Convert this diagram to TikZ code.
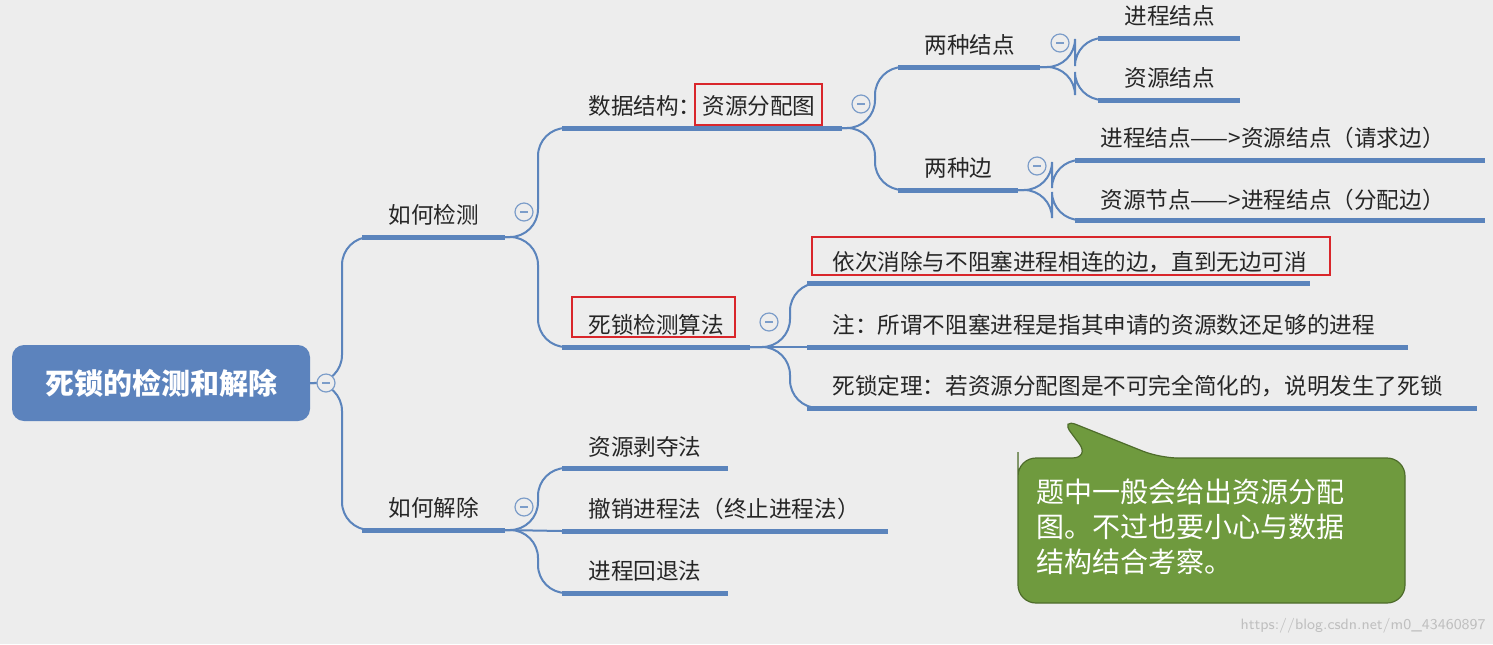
\documentclass[tikz,border=0pt]{standalone}
\usepackage{fontspec}
\newfontfamily\cjk{Noto Sans CJK SC}
\usetikzlibrary{calc}
\definecolor{ln}{HTML}{5B84BC}
\definecolor{bg}{HTML}{EDEDED}
\definecolor{rootc}{HTML}{5C83BD}
\definecolor{gr}{HTML}{6F9A3E}
\definecolor{rd}{HTML}{D9262B}
\begin{document}
\begin{tikzpicture}[x=0.5pt,y=-0.5pt,
  ul/.style={ln,line width=2.5pt},
  cn/.style={ln,line width=1pt,rounded corners=14},
  lbl/.style={anchor=south west,inner sep=0pt,font=\cjk\fontsize{11.3}{13}\selectfont,text=black!85},
  rbox/.style={draw=rd,line width=0.8pt},
  col/.style={circle,draw=ln!80,fill=bg,line width=0.6pt,minimum size=9pt,inner sep=0pt,
     path picture={\draw[ln!80,line width=0.6pt] ($(path picture bounding box.center)+(-2pt,0)$)--++(4pt,0);}}]
\fill[bg] (0,0) rectangle (1493,644);
\useasboundingbox (0,0) rectangle (1493,644);
% root
\node[fill=rootc,rounded corners=6pt,minimum width=149pt,minimum height=38pt,text=white,font=\cjk\bfseries\fontsize{14.5}{16}\selectfont] (root) at (161,383) {死锁的检测和解除};
% level 1 lines
\coordinate (r1) at (310,383);
\coordinate (a0) at (362,237); \coordinate (a1) at (505,237);
\coordinate (b0) at (362,530); \coordinate (b1) at (505,530);
\draw[cn] (r1) -- (342,383) |- (a0);
\draw[cn] (r1) -- (342,383) |- (b0);
\draw[ul] (a0)--(a1); \draw[ul] (b0)--(b1);
\node[lbl] (ta) at (388,226) {如何检测};
\node[lbl] (tb) at (388,519) {如何解除};
% 如何检测 children
\coordinate (c0) at (562,128); \coordinate (c1) at (842,128);
\coordinate (d0) at (562,347); \coordinate (d1) at (750,347);
\draw[cn] (a1) -- (538,237) |- (c0);
\draw[cn] (a1) -- (538,237) |- (d0);
\draw[ul] (c0)--(c1); \draw[ul] (d0)--(d1);
\node[lbl] (tc) at (588,117) {数据结构：};
\node[lbl] (tc2) at (702,117) {资源分配图};
\draw[rbox] (695,84) rectangle (822,125);
\node[lbl] (td) at (588,336) {死锁检测算法};
\draw[rbox] (572,297) rectangle (735,337);
% 数据结构 children
\coordinate (e0) at (898,67); \coordinate (e1) at (1040,67);
\coordinate (f0) at (898,190); \coordinate (f1) at (1018,190);
\draw[cn] (c1) -- (875,128) |- (e0);
\draw[cn] (c1) -- (875,128) |- (f0);
\draw[ul] (e0)--(e1); \draw[ul] (f0)--(f1);
\node[lbl] (te) at (924,56) {两种结点};
\node[lbl] (tf) at (924,179) {两种边};
% 两种结点 children
\coordinate (g0) at (1098,38); \coordinate (g1) at (1240,38);
\coordinate (h0) at (1098,100); \coordinate (h1) at (1240,100);
\draw[cn] (e1) -- (1075,67) |- (g0);
\draw[cn] (e1) -- (1075,67) |- (h0);
\draw[ul] (g0)--(g1); \draw[ul] (h0)--(h1);
\node[lbl] (tg) at (1124,27) {进程结点};
\node[lbl] (th) at (1124,89) {资源结点};
% 两种边 children
\coordinate (i0) at (1075,160); \coordinate (i1) at (1485,160);
\coordinate (j0) at (1075,220); \coordinate (j1) at (1485,220);
\draw[cn] (f1) -- (1052,190) |- (i0);
\draw[cn] (f1) -- (1052,190) |- (j0);
\draw[ul] (i0)--(i1); \draw[ul] (j0)--(j1);
\node[lbl] (ti) at (1100,149) {进程结点——>资源结点（请求边）};
\node[lbl] (tj) at (1100,211) {资源节点——>进程结点（分配边）};
% 死锁检测算法 children
\coordinate (k0) at (807,283); \coordinate (k1) at (1310,283);
\coordinate (l0) at (807,347); \coordinate (l1) at (1408,347);
\coordinate (m0) at (807,408); \coordinate (m1) at (1477,408);
\draw[cn] (d1) -- (790,347) |- (k0);
\draw[cn] (d1) -- (l0);
\draw[cn] (d1) -- (790,347) |- (m0);
\draw[ul] (k0)--(k1); \draw[ul] (l0)--(l1); \draw[ul] (m0)--(m1);
\node[lbl] (tk) at (832,273) {依次消除与不阻塞进程相连的边，直到无边可消};
\draw[rbox] (812,237) rectangle (1330,275);
\node[lbl] (tl) at (832,336) {注：所谓不阻塞进程是指其申请的资源数还足够的进程};
\node[lbl] (tm) at (832,397) {死锁定理：若资源分配图是不可完全简化的，说明发生了死锁};
% 如何解除 children
\coordinate (n0) at (562,468); \coordinate (n1) at (728,468);
\coordinate (o0) at (562,531); \coordinate (o1) at (888,531);
\coordinate (p0) at (562,593); \coordinate (p1) at (728,593);
\draw[cn] (b1) -- (538,530) |- (n0);
\draw[cn] (b1) -- (o0);
\draw[cn] (b1) -- (538,530) |- (p0);
\draw[ul] (n0)--(n1); \draw[ul] (o0)--(o1); \draw[ul] (p0)--(p1);
\node[lbl] (tn) at (588,458) {资源剥夺法};
\node[lbl] (to) at (588,520) {撤销进程法（终止进程法）};
\node[lbl] (tp) at (588,582) {进程回退法};
% collapse markers
\node[col] (k1c) at (326,383) {};
\node[col] (k2c) at (524,212) {};
\node[col] (k3c) at (861,104) {};
\node[col] (k4c) at (1060,43) {};
\node[col] (k5c) at (1037,166) {};
\node[col] (k6c) at (769,322) {};
\node[col] (k7c) at (524,507) {};
% callout
\draw[gr!70!black,fill=gr,rounded corners=9pt,line width=0.6pt]
  (1018,470) -- (1018,603) -- (1405,603) -- (1405,458) -- (1160,458) -- (1060,418) -- (1090,458) -- (1018,458) -- cycle;
\node[anchor=north west,align=left,text=white,inner sep=0pt,font=\cjk\fontsize{14}{17.5}\selectfont] (call) at (1036,478)
  {题中一般会给出资源分配\\图。不过也要小心与数据\\结构结合考察。};
\node[anchor=south east,inner sep=0pt,text=white!75!black,font=\sffamily\fontsize{7.5}{9}\selectfont] (wm) at (1486,634) {https://blog.csdn.net/m0\_43460897};
\end{tikzpicture}
\end{document}
